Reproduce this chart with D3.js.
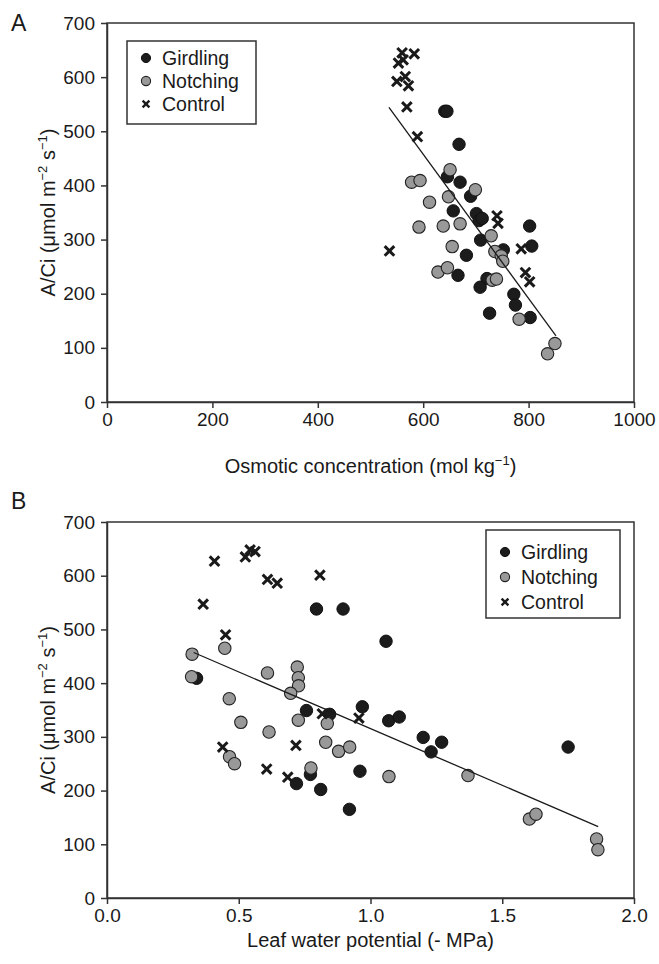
<!DOCTYPE html>
<html lang="en">
<head>
    <meta charset="UTF-8">
    <title>A/Ci vs osmotic concentration and leaf water potential</title>
    <style>
        body {
            margin: 0;
            background: #fff;
        }
        svg text {
            font-family: "Liberation Sans", Arial, sans-serif;
            fill: #1a1a1a;
        }
        .axis path, .axis line {
            stroke: #333;
            stroke-width: 1.5px;
        }
        .axis text {
            font-size: 19px;
        }
        .frame {
            fill: none;
            stroke: #333;
            stroke-width: 1.5px;
        }
        .fit {
            stroke: #1a1a1a;
            stroke-width: 1.3px;
        }
        .girdling {
            fill: #1c1c1c;
            stroke: #111;
            stroke-width: 1px;
        }
        .notching {
            fill: #999;
            stroke: #222;
            stroke-width: 1.1px;
        }
        .control {
            stroke: #1a1a1a;
            stroke-width: 3px;
            fill: none;
        }
    </style>
</head>
<body>
    <svg width="659" height="964"></svg>
    <script src="https://d3js.org/d3.v7.min.js"></script>
    <script>
        // ---- data ----
        // panel A: osmotic concentration (mol kg-1) vs A/Ci
        const girdlingA = [
            [641, 537], [645, 537], [668, 476], [646, 416], [670, 406], [690, 380],
            [657, 353], [701, 348], [706, 335], [712, 339], [802, 325], [709, 299],
            [806, 288], [682, 271], [752, 281], [666, 234], [721, 228], [708, 212],
            [772, 199], [775, 179], [726, 164], [803, 156]
        ];
        const notchingA = [
            [651, 429], [578, 406], [594, 409], [699, 392], [648, 379], [612, 369],
            [592, 323], [638, 325], [670, 329], [729, 307], [655, 287], [736, 278],
            [748, 270], [751, 260], [628, 240], [646, 248], [731, 225], [739, 227],
            [782, 153], [850, 108], [836, 89]
        ];
        const controlA = [
            [560, 645], [583, 643], [553, 626], [562, 632], [550, 592], [566, 601],
            [572, 584], [569, 545], [589, 490], [536, 279], [740, 344], [742, 330],
            [786, 283], [794, 239], [802, 222]
        ];
        const fitA = [[535, 544], [852, 122]];

        // panel B: leaf water potential (- MPa) vs A/Ci
        const girdlingB = [
            [0.34, 409], [0.795, 538], [0.896, 538], [1.059, 478], [0.969, 356],
            [1.069, 330], [1.109, 337], [0.757, 349], [0.845, 342], [0.772, 230],
            [0.719, 213], [0.811, 202], [1.20, 299], [1.27, 290], [1.23, 272],
            [1.75, 281], [0.96, 236], [0.92, 165]
        ];
        const notchingB = [
            [0.323, 454], [0.447, 465], [0.321, 412], [0.609, 419], [0.722, 430],
            [0.726, 410], [0.727, 395], [0.697, 381], [0.464, 371], [0.836, 325],
            [0.508, 327], [0.726, 331], [0.615, 309], [0.830, 290], [0.879, 273],
            [0.921, 281], [0.465, 263], [0.484, 250], [0.774, 242], [1.07, 226],
            [1.370, 228], [1.603, 147], [1.628, 156], [1.858, 110], [1.863, 90]
        ];
        const controlB = [
            [0.408, 627], [0.525, 635], [0.543, 648], [0.562, 645], [0.609, 593],
            [0.646, 586], [0.808, 601], [0.365, 547], [0.45, 490], [0.439, 281],
            [0.717, 284], [0.606, 240], [0.686, 225], [0.817, 343], [0.956, 335]
        ];
        const fitB = [[0.329, 457], [1.864, 133]];

        const yTicks = [0, 100, 200, 300, 400, 500, 600, 700];
        const xTicksA = [0, 200, 400, 600, 800, 1000];
        const xTicksB = [0, 0.5, 1.0, 1.5, 2.0];
        const legendLabels = ["Girdling", "Notching", "Control"];

        const svg = d3.select("svg");

        const xMark = s => `M${-s},${-s}L${s},${s}M${-s},${s}L${s},${-s}`;

        function drawPanel(o) {
            const x = d3.scaleLinear().domain(o.xDomain).range([107, 634]);
            const y = d3.scaleLinear().domain([0, 700]).range([o.bottom, o.bottom - o.height]);
            const g = svg.append("g");

            g.append("rect").attr("class", "frame")
                .attr("x", x.range()[0]).attr("y", y.range()[1])
                .attr("width", x.range()[1] - x.range()[0])
                .attr("height", y.range()[0] - y.range()[1]);

            g.append("g").attr("class", "axis")
                .attr("transform", `translate(0,${o.bottom})`)
                .call(d3.axisBottom(x).tickValues(o.xTicks).tickFormat(o.fmt)
                    .tickSize(6).tickSizeOuter(0).tickPadding(5));

            g.append("g").attr("class", "axis")
                .attr("transform", "translate(107,0)")
                .call(d3.axisLeft(y).tickValues(yTicks).tickFormat(d3.format("d"))
                    .tickSize(6).tickSizeOuter(0).tickPadding(6));

            g.selectAll(".girdling").data(o.gird).join("circle")
                .attr("class", "girdling")
                .attr("cx", d => x(d[0])).attr("cy", d => y(d[1])).attr("r", 6.2);

            g.selectAll(".notching").data(o.notch).join("circle")
                .attr("class", "notching")
                .attr("cx", d => x(d[0])).attr("cy", d => y(d[1])).attr("r", 6.2);

            g.selectAll(".control").data(o.ctrl).join("path")
                .attr("class", "control")
                .attr("transform", d => `translate(${x(d[0])},${y(d[1])})`)
                .attr("d", xMark(4.8));

            g.append("line").attr("class", "fit")
                .attr("x1", x(o.fit[0][0])).attr("y1", y(o.fit[0][1]))
                .attr("x2", x(o.fit[1][0])).attr("y2", y(o.fit[1][1]));

            // panel letter
            g.append("text").attr("x", 11).attr("y", o.letterY)
                .style("font-size", "23px").text(o.letter);

            // y title
            const yt = g.append("text")
                .attr("transform", `translate(55,${o.bottom - o.height / 2}) rotate(-90)`)
                .attr("text-anchor", "middle")
                .style("font-size", "20px");
            yt.append("tspan").text("A/Ci (\u03bcmol m");
            yt.append("tspan").attr("dy", -8).style("font-size", "13px").text("\u22122");
            yt.append("tspan").attr("dy", 8).text(" s");
            yt.append("tspan").attr("dy", -8).style("font-size", "13px").text("\u22121");
            yt.append("tspan").attr("dy", 8).text(")");

            // x title
            const xt = g.append("text")
                .attr("x", (x.range()[0] + x.range()[1]) / 2)
                .attr("y", o.bottom + o.titleGap)
                .attr("text-anchor", "middle")
                .style("font-size", "20px");
            o.xTitle.forEach(p => {
                const t = xt.append("tspan").text(p.t);
                if (p.sup) t.attr("dy", -8).style("font-size", "13px");
                if (p.down) t.attr("dy", 8);
            });

            // legend
            const L = o.legend;
            const lg = g.append("g");
            lg.append("rect").attr("x", L.x).attr("y", L.y)
                .attr("width", L.w).attr("height", L.h)
                .attr("fill", "#fff").attr("stroke", "#333").attr("stroke-width", 1.5);
            legendLabels.forEach((name, i) => {
                const cy = L.y + L.first + i * L.step;
                if (i === 2) {
                    lg.append("path").attr("class", "control")
                        .style("stroke-width", "2.4px")
                        .attr("transform", `translate(${L.x + 19},${cy})`)
                        .attr("d", xMark(3.4));
                } else {
                    lg.append("circle").attr("class", i === 0 ? "girdling" : "notching")
                        .attr("cx", L.x + 19).attr("cy", cy).attr("r", 4.6);
                }
                lg.append("text").attr("x", L.x + 35).attr("y", cy)
                    .attr("dy", "0.36em").style("font-size", "19.5px").text(name);
            });
        }

        drawPanel({
            letter: "A", letterY: 31, bottom: 402, height: 379, titleGap: 71,
            xDomain: [0, 1000], xTicks: xTicksA, fmt: d3.format("d"),
            gird: girdlingA, notch: notchingA, ctrl: controlA, fit: fitA,
            xTitle: [{t: "Osmotic concentration (mol kg"}, {t: "\u22121", sup: true}, {t: ")", down: true}],
            legend: {x: 127, y: 41, w: 129, h: 83, first: 17, step: 23}
        });

        drawPanel({
            letter: "B", letterY: 509, bottom: 898, height: 376, titleGap: 49,
            xDomain: [0, 2], xTicks: xTicksB, fmt: d3.format(".1f"),
            gird: girdlingB, notch: notchingB, ctrl: controlB, fit: fitB,
            xTitle: [{t: "Leaf water potential (- MPa)"}],
            legend: {x: 486, y: 530, w: 134, h: 88, first: 22, step: 25}
        });
    </script>
</body>
</html>
